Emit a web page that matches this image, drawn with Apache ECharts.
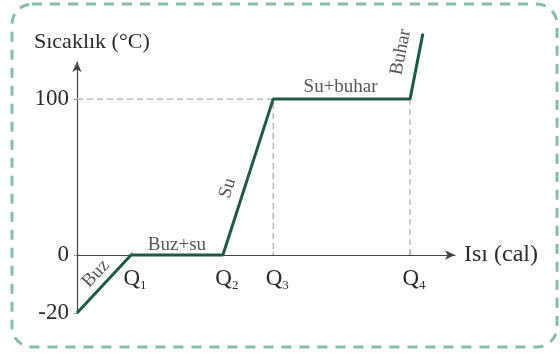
<!DOCTYPE html>
<html>
<head>
<meta charset="utf-8">
<script src="https://cdn.jsdelivr.net/npm/echarts@6/dist/echarts.min.js"></script>
<style>
  html, body { margin: 0; padding: 0; background: #fff; }
  #chart { width: 560px; height: 354px; }
</style>
</head>
<body>
<div id="chart"></div>
<script>
// heating curve of water (schematic, below zero is drawn stretched like the book)
const heat = [0, 14.3, 38.6, 51.9, 88.1, 91.5];
const temp = [-20, 0, 0, 100, 100, 142];
const phases = ['Buz', 'Buz+su', 'Su', 'Su+buhar', 'Buhar'];
const heatTicks = [14.3, 38.6, 51.9, 88.1];
const heatTickLabels = ['1', '2', '3', '4'];
const tempTicks = [-20, 0, 100];

const serif = 'Liberation Serif';
const textColor = '#2b2b2b';
const belowZeroStretch = 1.86;
const ty = t => (t < 0 ? t * belowZeroStretch : t);

// phase name placement, offset is in the rotated label frame
const phaseLabelStyle = [
    { rotate: 47, offset: [2, -13] },
    { rotate: 0, offset: [0, -10] },
    { rotate: 72, offset: [-17, -16] },
    { rotate: 0, offset: [-1, -12] },
    { rotate: 79, offset: [11, -18] }
];

const phaseData = phases.map((name, i) => ({
    name: name,
    value: [(heat[i] + heat[i + 1]) / 2, (ty(temp[i]) + ty(temp[i + 1])) / 2],
    label: phaseLabelStyle[i]
}));

const chart = echarts.init(document.getElementById('chart'));

const option = {
    animation: false,
    title: {
        text: 'Sıcaklık (°C)',
        left: 29,
        top: 26,
        textStyle: { fontFamily: serif, fontSize: 22, fontWeight: 'normal', color: textColor }
    },
    graphic: [
        {
            type: 'rect',
            shape: { x: 12, y: 4, width: 545, height: 343, r: 20 },
            style: { fill: 'none', stroke: '#86bfa5', lineWidth: 3, lineDash: [10, 8] },
            z: -1
        }
    ],
    grid: { left: 77, top: 62, width: 378, height: 251 },
    xAxis: {
        type: 'value',
        min: 0,
        max: 100,
        // sit on the 0 line: 0 is 58px above the grid bottom
        offset: -58,
        name: 'Isı (cal)',
        nameLocation: 'end',
        nameGap: 9,
        nameTextStyle: { fontFamily: serif, fontSize: 24, color: textColor },
        splitLine: { show: false },
        axisLine: {
            onZero: false,
            symbol: ['none', 'arrow'],
            symbolSize: [7, 10],
            lineStyle: { color: '#444', width: 1.2 }
        },
        axisTick: {
            customValues: heatTicks,
            inside: true,
            length: 3,
            lineStyle: { color: '#999' }
        },
        axisLabel: {
            customValues: heatTicks,
            margin: 10,
            formatter: v => {
                const i = heatTicks.indexOf(v);
                return '{q|Q}{s|' + heatTickLabels[i] + '}';
            },
            rich: {
                q: { fontFamily: serif, fontSize: 23, color: textColor, padding: [0, 0, 0, 8] },
                s: { fontFamily: serif, fontSize: 13, color: textColor, padding: [14, 0, 0, 0] }
            }
        }
    },
    yAxis: {
        type: 'value',
        min: ty(-20),
        max: 123.8,
        splitLine: { show: false },
        axisLine: {
            symbol: ['none', 'arrow'],
            symbolSize: [7, 10],
            lineStyle: { color: '#444', width: 1.2 }
        },
        axisTick: {
            customValues: tempTicks.map(ty),
            length: 3,
            lineStyle: { color: '#999' }
        },
        axisLabel: {
            customValues: tempTicks.map(ty),
            margin: 8,
            fontFamily: serif,
            fontSize: 23,
            color: textColor,
            formatter: v => {
                const t = tempTicks.find(k => Math.abs(ty(k) - v) < 0.01);
                return String(t);
            }
        }
    },
    series: [
        {
            type: 'line',
            data: [[0, temp[3]], [heat[3], temp[3]], [heat[3], 0]],
            symbol: 'none',
            lineStyle: { color: '#b0b0b0', width: 1.3, type: [6, 4] },
            z: 1
        },
        {
            type: 'line',
            data: [[heat[4], temp[4]], [heat[4], 0]],
            symbol: 'none',
            lineStyle: { color: '#b0b0b0', width: 1.3, type: [6, 4] },
            z: 1
        },
        {
            type: 'line',
            data: heat.map((h, i) => [h, ty(temp[i])]),
            symbol: 'none',
            clip: false,
            lineStyle: { color: '#1e5b44', width: 3 },
            z: 3
        },
        {
            type: 'scatter',
            data: phaseData,
            symbolSize: 0,
            label: {
                show: true,
                position: 'inside',
                formatter: '{b}',
                fontFamily: serif,
                fontSize: 19,
                color: textColor
            },
            z: 4
        }
    ]
};

chart.setOption(option);
</script>
</body>
</html>
